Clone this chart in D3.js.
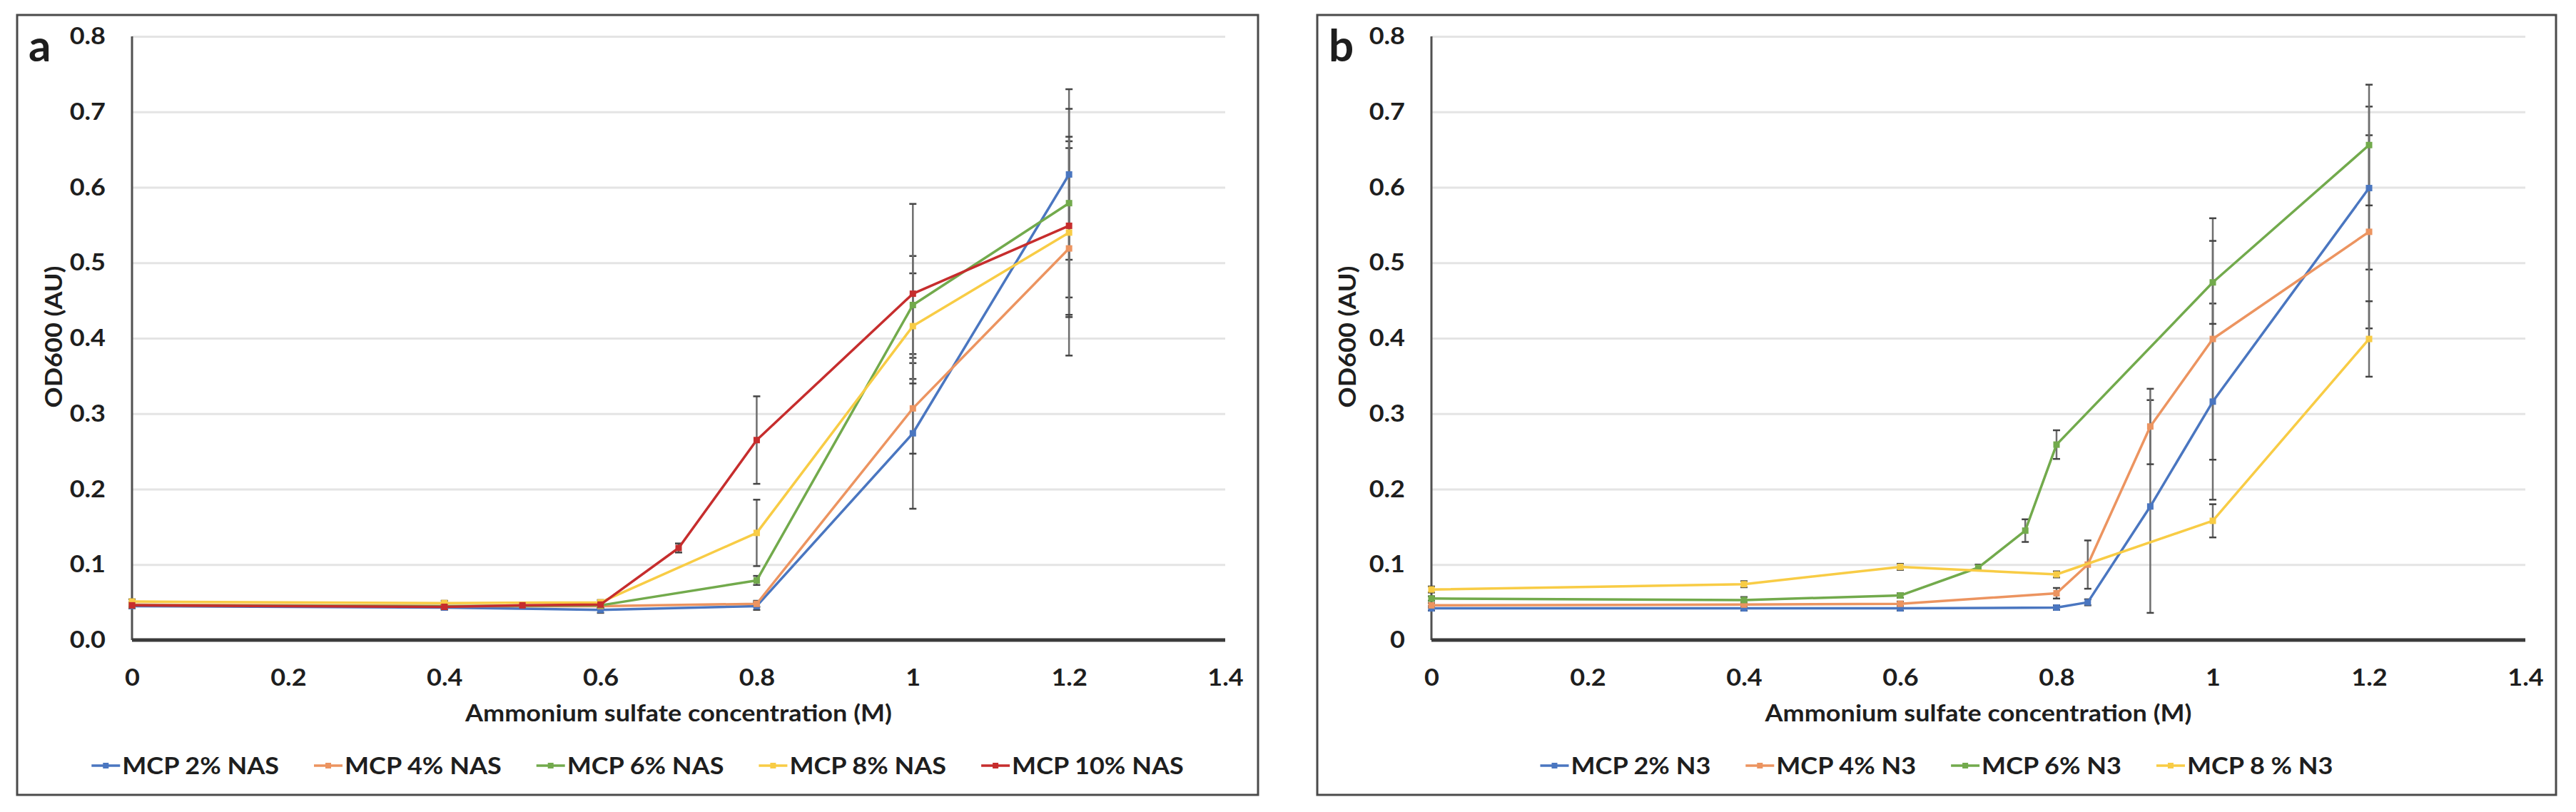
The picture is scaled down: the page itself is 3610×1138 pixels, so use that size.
<!DOCTYPE html>
<html>
<head>
<meta charset="utf-8">
<script src="https://cdn.jsdelivr.net/npm/d3@7"></script>
<style>
  html, body { margin: 0; padding: 0; background: #fff; }
  svg { display: block; }
  .t { font-family: Lato, 'Liberation Sans', sans-serif; font-weight: bold; fill: #1e1e1e; }
</style>
</head>
<body>
<svg id="chart" width="3610" height="1138"></svg>
<script>
// ---------- shared axis data ----------
const xTicks = [0, 0.2, 0.4, 0.6, 0.8, 1, 1.2, 1.4];
const yTicks = [0, 0.1, 0.2, 0.3, 0.4, 0.5, 0.6, 0.7, 0.8];
const xTitle = "Ammonium sulfate concentration (M)";
const yTitle = "OD600 (AU)";

// ---------- panel a (NAS) ----------
const namesA = ["MCP 2% NAS", "MCP 4% NAS", "MCP 6% NAS", "MCP 8% NAS", "MCP 10% NAS"];
const colorsA = ["#4a76c0", "#ec9460", "#72aa4c", "#f8cc45", "#c62d2d"];
const concA = [0, 0.4, 0.6, 0.8, 1.0, 1.2];
const concA10 = [0, 0.4, 0.5, 0.6, 0.7, 0.8, 1.0, 1.2];
const a2 = [0.045, 0.043, 0.040, 0.045, 0.274, 0.617];
const a2err = [0.003, 0.003, 0.004, 0.005, 0.100, 0.113];
const a4 = [0.047, 0.045, 0.045, 0.048, 0.307, 0.519];
const a4err = [0.003, 0.003, 0.003, 0.004, 0.060, 0.142];
const a6 = [0.046, 0.045, 0.046, 0.079, 0.444, 0.579];
const a6err = [0.003, 0.003, 0.003, 0.006, 0.065, 0.125];
const a8 = [0.051, 0.049, 0.050, 0.142, 0.416, 0.540];
const a8err = [0.003, 0.003, 0.003, 0.044, 0.070, 0.112];
const a10 = [0.046, 0.044, 0.046, 0.047, 0.122, 0.265, 0.459, 0.549];
const a10err = [0.003, 0.003, 0.003, 0.003, 0.006, 0.058, 0.119, 0.118];

// ---------- panel b (N3) ----------
const namesB = ["MCP 2% N3", "MCP 4% N3", "MCP 6% N3", "MCP 8 % N3"];
const colorsB = ["#4a76c0", "#ec9460", "#72aa4c", "#f8cc45"];
const concB2 = [0, 0.4, 0.6, 0.8, 0.84, 0.92, 1.0, 1.2];
const concB6 = [0, 0.4, 0.6, 0.7, 0.76, 0.8, 1.0, 1.2];
const concB8 = [0, 0.4, 0.6, 0.8, 1.0, 1.2];
const b2 = [0.042, 0.042, 0.042, 0.043, 0.050, 0.177, 0.316, 0.599];
const b2err = [0.003, 0.003, 0.003, 0.003, 0.004, 0.141, 0.130, 0.108];
const b4 = [0.046, 0.047, 0.048, 0.062, 0.100, 0.283, 0.399, 0.541];
const b4err = [0.003, 0.003, 0.003, 0.007, 0.032, 0.050, 0.160, 0.128];
const b6 = [0.055, 0.053, 0.059, 0.096, 0.145, 0.259, 0.474, 0.656];
const b6err = [0.003, 0.004, 0.003, 0.004, 0.015, 0.019, 0.055, 0.080];
const b8 = [0.067, 0.074, 0.097, 0.087, 0.158, 0.399];
const b8err = [0.004, 0.004, 0.004, 0.004, 0.022, 0.050];

const FS = 33;
const svg = d3.select("#chart");
svg.append("rect").attr("width", 3610).attr("height", 1138).attr("fill", "#fff");

// horizontal compression factor so the bold sans matches the narrow original lettering
const probe = svg.append("text").attr("class", "t").style("font-size", FS + "px").text(xTitle);
const K = 598 / probe.node().getComputedTextLength();
probe.remove();

function squeeze(sel) {
  sel.each(function () {
    const w = this.getComputedTextLength();
    d3.select(this).attr("textLength", w * K).attr("lengthAdjust", "spacingAndGlyphs");
  });
}

function zip(xs, ys, es) { return xs.map((x, i) => ({ x: x, y: ys[i], e: es[i] })); }

function drawPanel(cfg) {
  const g = svg.append("g");
  const x = d3.scaleLinear().domain([0, 1.4]).range([cfg.px0, cfg.px1]);
  const y = d3.scaleLinear().domain([0, 0.8]).range([897, 51]);

  g.append("rect")
    .attr("x", cfg.bx0).attr("y", 21)
    .attr("width", cfg.bx1 - cfg.bx0).attr("height", 1093)
    .attr("fill", "none").attr("stroke", "#4a4a4a").attr("stroke-width", 3);

  const grid = g.append("g").attr("transform", `translate(${cfg.px0},0)`)
    .call(d3.axisLeft(y).tickValues(yTicks.filter(v => v > 0)).tickSize(-(cfg.px1 - cfg.px0)).tickFormat(""));
  grid.select(".domain").remove();
  grid.selectAll("line").attr("stroke", "#e4e4e4").attr("stroke-width", 3);

  const yl = g.append("g").attr("transform", `translate(${cfg.px0 - 37},0)`)
    .call(d3.axisLeft(y).tickValues(yTicks).tickSize(0).tickPadding(0).tickFormat(cfg.yfmt));
  yl.select(".domain").remove();
  yl.selectAll("text").attr("class", "t").style("font-size", FS + "px").attr("fill", "#1e1e1e").call(squeeze);

  const xl = g.append("g").attr("transform", `translate(0,897)`)
    .call(d3.axisBottom(x).tickValues(xTicks).tickSize(0).tickPadding(41).tickFormat(d3.format("~g")));
  xl.select(".domain").remove();
  xl.selectAll("text").attr("class", "t").style("font-size", FS + "px").attr("fill", "#1e1e1e").call(squeeze);

  g.append("line").attr("x1", cfg.px0).attr("x2", cfg.px0).attr("y1", y(0.8)).attr("y2", y(0))
    .attr("stroke", "#505050").attr("stroke-width", 3);
  g.append("line").attr("x1", cfg.px0).attr("x2", cfg.px1).attr("y1", y(0)).attr("y2", y(0))
    .attr("stroke", "#3a3a3a").attr("stroke-width", 5);

  g.append("text").attr("class", "t").style("font-size", FS + "px")
    .attr("x", (cfg.px0 + cfg.px1) / 2).attr("y", 1011).attr("text-anchor", "middle").text(xTitle).call(squeeze);
  g.append("text").attr("class", "t").style("font-size", FS + "px")
    .attr("transform", `translate(${cfg.ytx},472) rotate(-90)`)
    .attr("text-anchor", "middle").attr("dy", "0.35em").text(yTitle).call(squeeze);
  g.append("text").attr("class", "t").style("font-size", "62px")
    .attr("x", cfg.lx).attr("y", 86).text(cfg.label);

  const line = d3.line().x(d => x(d.x)).y(d => y(d.y));

  cfg.series.forEach(s => {
    const eg = g.append("g");
    s.data.forEach(d => {
      eg.append("line").attr("x1", x(d.x)).attr("x2", x(d.x))
        .attr("y1", y(d.y + d.e)).attr("y2", y(d.y - d.e))
        .attr("stroke", "#6e6e6e").attr("stroke-width", 2.5);
      [d.y + d.e, d.y - d.e].forEach(v => {
        eg.append("line").attr("x1", x(d.x) - 5).attr("x2", x(d.x) + 5)
          .attr("y1", y(v)).attr("y2", y(v))
          .attr("stroke", "#444").attr("stroke-width", 2.5);
      });
    });
  });

  cfg.series.forEach(s => {
    g.append("path").datum(s.data).attr("d", line)
      .attr("fill", "none").attr("stroke", s.color).attr("stroke-width", 3.5)
      .attr("stroke-linejoin", "round");
    g.selectAll(null).data(s.data).enter().append("rect")
      .attr("x", d => x(d.x) - 4.5).attr("y", d => y(d.y) - 4.5)
      .attr("width", 9).attr("height", 9).attr("fill", s.color);
  });

  const lg = g.append("g");
  const items = cfg.series.map(s => {
    const it = lg.append("g");
    it.append("line").attr("x1", 0).attr("x2", 40).attr("y1", 1073).attr("y2", 1073)
      .attr("stroke", s.color).attr("stroke-width", 3.5);
    it.append("rect").attr("x", 16).attr("y", 1069).attr("width", 8).attr("height", 8).attr("fill", s.color);
    const t = it.append("text").attr("class", "t").style("font-size", FS + "px")
      .attr("x", 43).attr("y", 1085).text(s.name);
    const w = t.node().getComputedTextLength() * K;
    t.attr("textLength", w).attr("lengthAdjust", "spacingAndGlyphs");
    return { g: it, w: 43 + w };
  });
  const gap = 49;
  const total = d3.sum(items, d => d.w) + gap * (items.length - 1);
  let cx = (cfg.bx0 + cfg.bx1) / 2 - total / 2;
  items.forEach(it => { it.g.attr("transform", `translate(${cx},0)`); cx += it.w + gap; });
}

drawPanel({
  bx0: 24, bx1: 1763, px0: 185, px1: 1717, ytx: 75, lx: 40, label: "a",
  yfmt: d3.format(".1f"),
  series: [
    { name: namesA[0], color: colorsA[0], data: zip(concA, a2, a2err) },
    { name: namesA[1], color: colorsA[1], data: zip(concA, a4, a4err) },
    { name: namesA[2], color: colorsA[2], data: zip(concA, a6, a6err) },
    { name: namesA[3], color: colorsA[3], data: zip(concA, a8, a8err) },
    { name: namesA[4], color: colorsA[4], data: zip(concA10, a10, a10err) }
  ]
});

drawPanel({
  bx0: 1846, bx1: 3582, px0: 2006, px1: 3539, ytx: 1888, lx: 1862, label: "b",
  yfmt: v => v === 0 ? "0" : d3.format(".1f")(v),
  series: [
    { name: namesB[0], color: colorsB[0], data: zip(concB2, b2, b2err) },
    { name: namesB[1], color: colorsB[1], data: zip(concB2, b4, b4err) },
    { name: namesB[2], color: colorsB[2], data: zip(concB6, b6, b6err) },
    { name: namesB[3], color: colorsB[3], data: zip(concB8, b8, b8err) }
  ]
});
</script>
</body>
</html>
